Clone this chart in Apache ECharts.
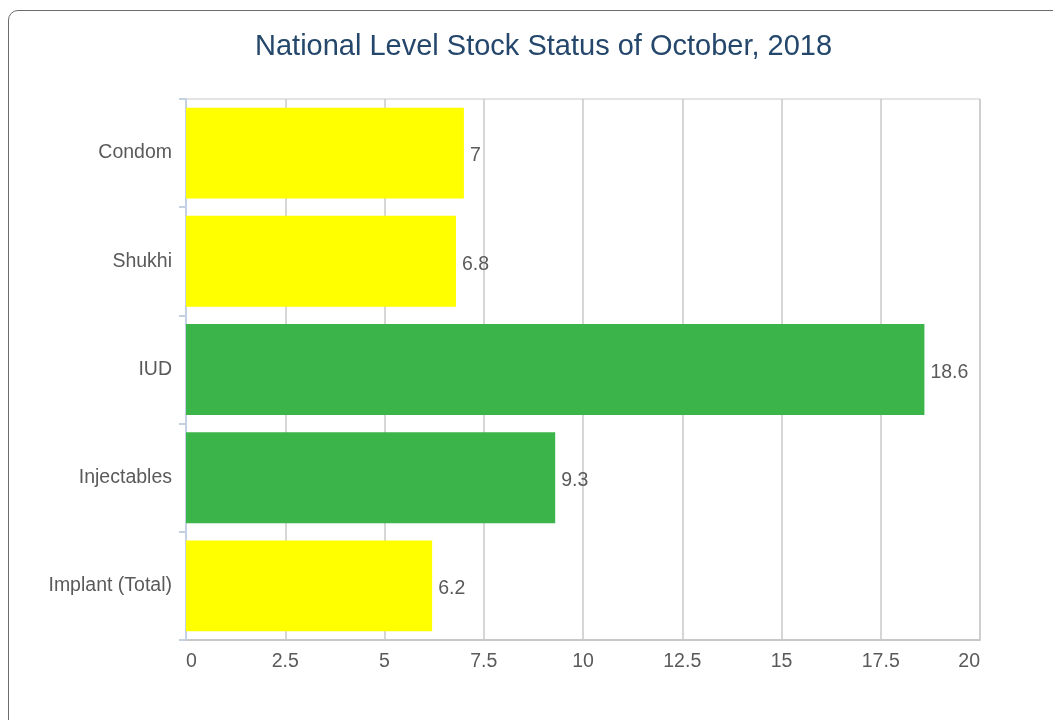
<!DOCTYPE html>
<html><head><meta charset="utf-8">
<script src="https://cdn.jsdelivr.net/npm/echarts@6/dist/echarts.min.js"></script>
<style>
html,body{margin:0;padding:0;width:1053px;height:720px;overflow:hidden;background:#fff;}
#frame{position:absolute;left:8px;top:10px;width:1100px;height:800px;border:1.5px solid #6b6b6b;border-radius:10px;}
#chart{position:absolute;left:0;top:0;width:1053px;height:720px;}
</style></head>
<body>
<div id="frame"></div>
<div id="chart"></div>
<script>
const categories = ['Condom', 'Shukhi', 'IUD', 'Injectables', 'Implant (Total)'];
const values = [7, 6.8, 18.6, 9.3, 6.2];
const barColors = ['#FFFF00', '#FFFF00', '#3BB54A', '#3BB54A', '#FFFF00'];
const xTicks = [0, 2.5, 5, 7.5, 10, 12.5, 15, 17.5, 20];

const chart = echarts.init(document.getElementById('chart'));
chart.setOption({
  animation: false,
  title: {
    text: 'National Level Stock Status of October, 2018',
    left: 250, top: 27,
    textStyle: {color: '#24476b', fontSize: 29, fontWeight: 'normal', fontFamily: 'Liberation Sans'}
  },
  grid: {left: 186, right: 73, top: 99, bottom: 80, show: true, borderColor: '#c8c8c8', borderWidth: 1},
  xAxis: {
    type: 'value', min: xTicks[0], max: xTicks[xTicks.length-1], interval: 2.5,
    axisLine: {show: true, lineStyle: {color: '#c8c8c8', width: 2}},
    axisTick: {show: false},
    splitLine: {show: true, lineStyle: {color: '#c8c8c8', width: 1.5}},
    axisLabel: {color: '#5a5a5a', fontSize: 19.5, margin: 12, fontFamily: 'Liberation Sans',
      alignMinLabel: 'left', alignMaxLabel: 'right'}
  },
  yAxis: {
    type: 'category', data: categories, inverse: true,
    axisLine: {show: true, lineStyle: {color: '#c3d1e3', width: 2}},
    axisTick: {show: true, length: 7, lineStyle: {color: '#c3d1e3', width: 2}},
    axisLabel: {color: '#5a5a5a', fontSize: 19.5, margin: 14, fontFamily: 'Liberation Sans', padding: [6, 0, 0, 0]}
  },
  series: [{
    type: 'bar',
    data: values.map((v, i) => ({value: v, itemStyle: {color: barColors[i]}})),
    barCategoryGap: '16%',
    label: {show: true, position: 'right', distance: 6, offset: [0, 3], color: '#5a5a5a', fontSize: 19.5, fontFamily: 'Liberation Sans'}
  }]
});
</script>
</body></html>
